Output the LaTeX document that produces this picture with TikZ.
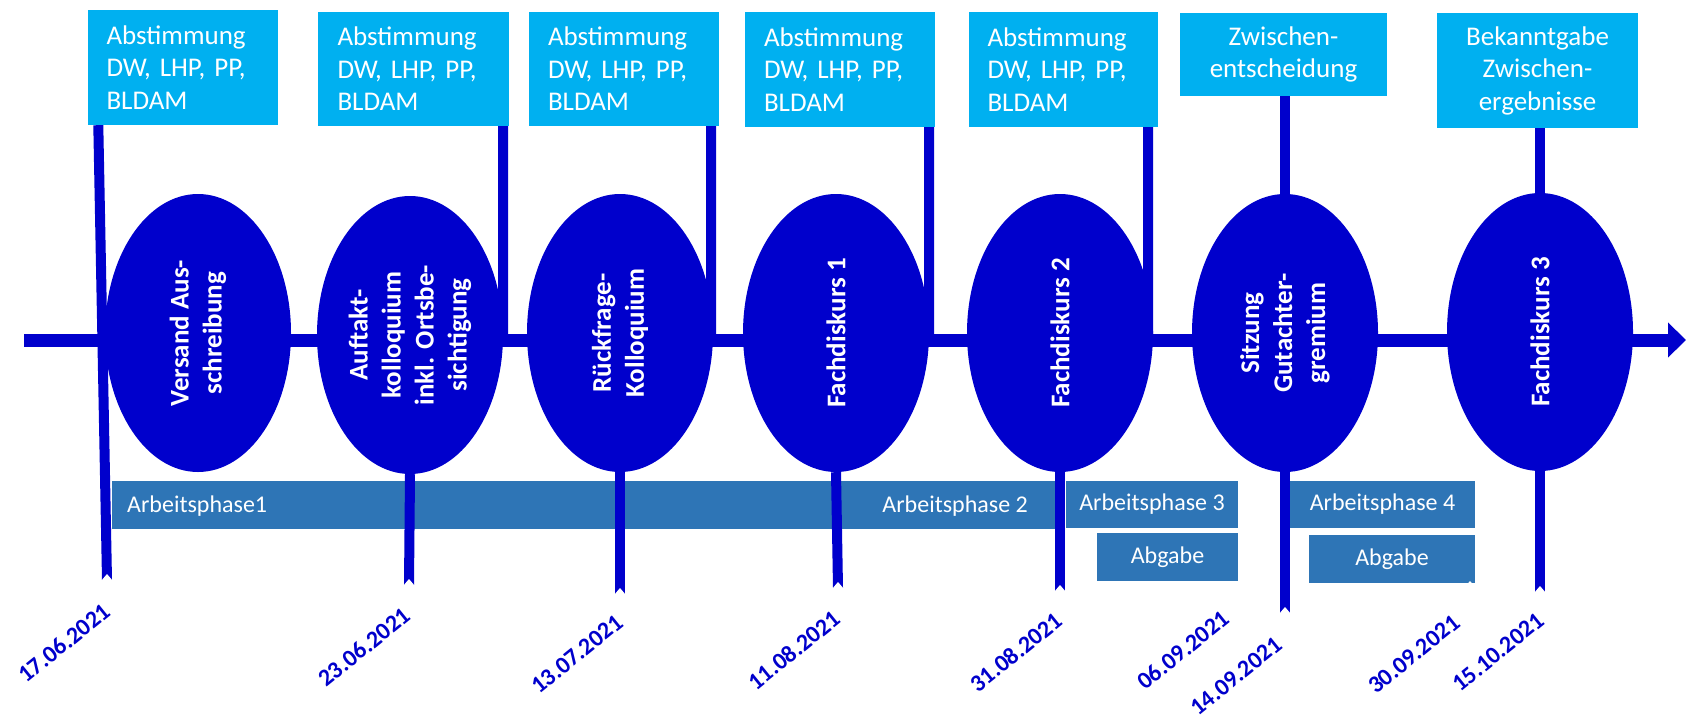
\documentclass[tikz,border=0pt]{standalone}
\usepackage{fontspec}
\setmainfont{Carlito}
\usetikzlibrary{shapes.geometric,arrows.meta,calc}
\definecolor{dblue}{RGB}{0,0,204}
\definecolor{lblue}{RGB}{0,176,240}
\definecolor{barblue}{RGB}{46,117,182}
\pgfdeclarelayer{bg}
\pgfsetlayers{bg,main}
\newcommand\linenotch[1]{\fill[white] ([shift={(-6,1)}]#1) -- ([shift={(0,-6)}]#1) -- ([shift={(6,1)}]#1) -- cycle;}
\begin{document}
\begin{tikzpicture}[x=1pt,y=-1pt,
  topbox/.style={fill=lblue, text=white, inner sep=0pt, font=\fontsize{27}{32.5}\selectfont},
  ellnode/.style={ellipse, fill=dblue, text=white, rotate=90, minimum width=278pt, minimum height=186pt, inner sep=0pt, align=center, font=\bfseries\fontsize{27}{33}\selectfont},
  vline/.style={draw=dblue, line width=10pt},
  mainline/.style={draw=dblue, line width=13pt, -{Triangle[length=18pt,width=34pt]}},
  barbox/.style={fill=barblue, inner sep=0pt, text=white, font=\fontsize{24}{28}\selectfont},
  bartext/.style={text=white, font=\fontsize{24}{28}\selectfont, inner sep=0pt},
  datelabel/.style={text=dblue, rotate=39, font=\bfseries\fontsize{24}{28}\selectfont, inner sep=0pt},
]
\useasboundingbox (0,0) rectangle (1686,721);
\fill[white] (0,0) rectangle (1686,721);

% bars
\node[barbox, minimum width=943pt, minimum height=48pt] (barA) at (583.5,505) {};
\node[bartext, anchor=west] (ap1) at (127,506) {Arbeitsphase1};
\node[bartext, anchor=east] (ap2) at (1028,506) {Arbeitsphase 2};
\node[barbox, minimum width=172pt, minimum height=47pt] (bar3) at (1152,504.5) {Arbeitsphase 3};
\node[barbox, minimum width=185pt, minimum height=47pt] (bar4) at (1382.5,504.5) {Arbeitsphase 4};
\node[barbox, minimum width=141pt, minimum height=48pt] (abg1) at (1167.5,557) {Abgabe};
\node[barbox, minimum width=166pt, minimum height=48pt] (abg2) at (1392,559) {Abgabe};

% coordinates of free line ends
\coordinate (start) at (24,340);
\coordinate (end) at (1686,340);
\coordinate (m2) at (503,340);
\coordinate (m3) at (711,340);
\coordinate (m4) at (929,340);
\coordinate (m5) at (1148,340);
\coordinate (q1) at (107,580);
\coordinate (q2) at (409,585);
\coordinate (q3) at (620,594);
\coordinate (q4) at (838,588);
\coordinate (q5) at (1060,591);
\coordinate (q6) at (1233,592);
\coordinate (q7) at (1285,613);
\coordinate (q8) at (1470,587);
\coordinate (q9) at (1540,592);

% hidden lines behind bars
\begin{pgfonlayer}{bg}
\draw[vline] ([xshift=-5pt]bar3.north east) -- (q6);
\draw[vline] ([xshift=-4pt]bar4.north east) -- (q8);
\end{pgfonlayer}

% top boxes
\node[topbox, minimum width=190pt, minimum height=115pt, text width=152pt, align=left] (b1) at (182.5,67.5) {Abstimmung\\DW, LHP, PP,\\BLDAM};
\node[topbox, minimum width=191pt, minimum height=114pt, text width=152pt, align=left] (b2) at (413.5,69) {Abstimmung\\DW, LHP, PP,\\BLDAM};
\node[topbox, minimum width=190pt, minimum height=114pt, text width=152pt, align=left] (b3) at (624,69) {Abstimmung\\DW, LHP, PP,\\BLDAM};
\node[topbox, minimum width=190pt, minimum height=115pt, text width=152pt, align=left] (b4) at (840,69.5) {Abstimmung\\DW, LHP, PP,\\BLDAM};
\node[topbox, minimum width=189pt, minimum height=115pt, text width=152pt, align=left] (b5) at (1063.5,69.5) {Abstimmung\\DW, LHP, PP,\\BLDAM};
\node[topbox, minimum width=207pt, minimum height=83pt, align=center] (b6) at (1283.5,54.5) {Zwischen-\\entscheidung};
\node[topbox, minimum width=201pt, minimum height=115pt, align=center] (b7) at (1537.5,70.5) {Bekanntgabe\\Zwischen-\\ergebnisse};

% main timeline
\draw[mainline] (start) -- (end);

% ellipses
\node[ellnode] (e1) at (198,333) {Versand Aus-\\schreibung};
\node[ellnode] (e2) at (410,335) {Auftakt-\\kolloquium\\inkl. Ortsbe-\\sichtigung};
\node[ellnode] (e3) at (620,333) {Rückfrage-\\Kolloquium};
\node[ellnode] (e4) at (836,333) {Fachdiskurs 1};
\node[ellnode] (e5) at (1060,333) {Fachdiskurs 2};
\node[ellnode] (e6) at (1285,333) {Sitzung\\Gutachter-\\gremium};
\node[ellnode] (e7) at (1540,332) {Fachdiskurs 3};

% vertical lines
\draw[vline] ([xshift=11pt]b1.south west) -- (q1);
\draw[vline] ([xshift=-6pt]b2.south east) -- (m2);
\draw[vline] ([xshift=-8pt]b3.south east) -- (m3);
\draw[vline] ([xshift=-6pt]b4.south east) -- (m4);
\draw[vline] ([xshift=-10pt]b5.south east) -- (m5);
\draw[vline] (e6.east |- b6.south) -- (e6.east);
\draw[vline] (e7.east |- b7.south) -- (e7.east);
\draw[vline] (e2.west) -- (q2);
\draw[vline] (e3.west) -- (q3);
\draw[vline] (e4.west) -- (q4);
\draw[vline] (e5.west) -- (q5);
\draw[vline] (e6.west) -- (q7);
\draw[vline] (e7.west) -- (q9);

% notches at line ends
\linenotch{q1}\linenotch{q2}\linenotch{q3}\linenotch{q4}\linenotch{q5}
\linenotch{q6}\linenotch{q7}\linenotch{q8}\linenotch{q9}

% dates
\node[datelabel] (d1) at (64,643) {17.06.2021};
\node[datelabel] (d2) at (364,647) {23.06.2021};
\node[datelabel] (d3) at (577,654) {13.07.2021};
\node[datelabel] (d4) at (794,650) {11.08.2021};
\node[datelabel] (d5) at (1016,652) {31.08.2021};
\node[datelabel] (d6) at (1183,650) {06.09.2021};
\node[datelabel] (d7) at (1236,676) {14.09.2021};
\node[datelabel] (d8) at (1414,654) {30.09.2021};
\node[datelabel] (d9) at (1498,652) {15.10.2021};
\end{tikzpicture}
\end{document}
